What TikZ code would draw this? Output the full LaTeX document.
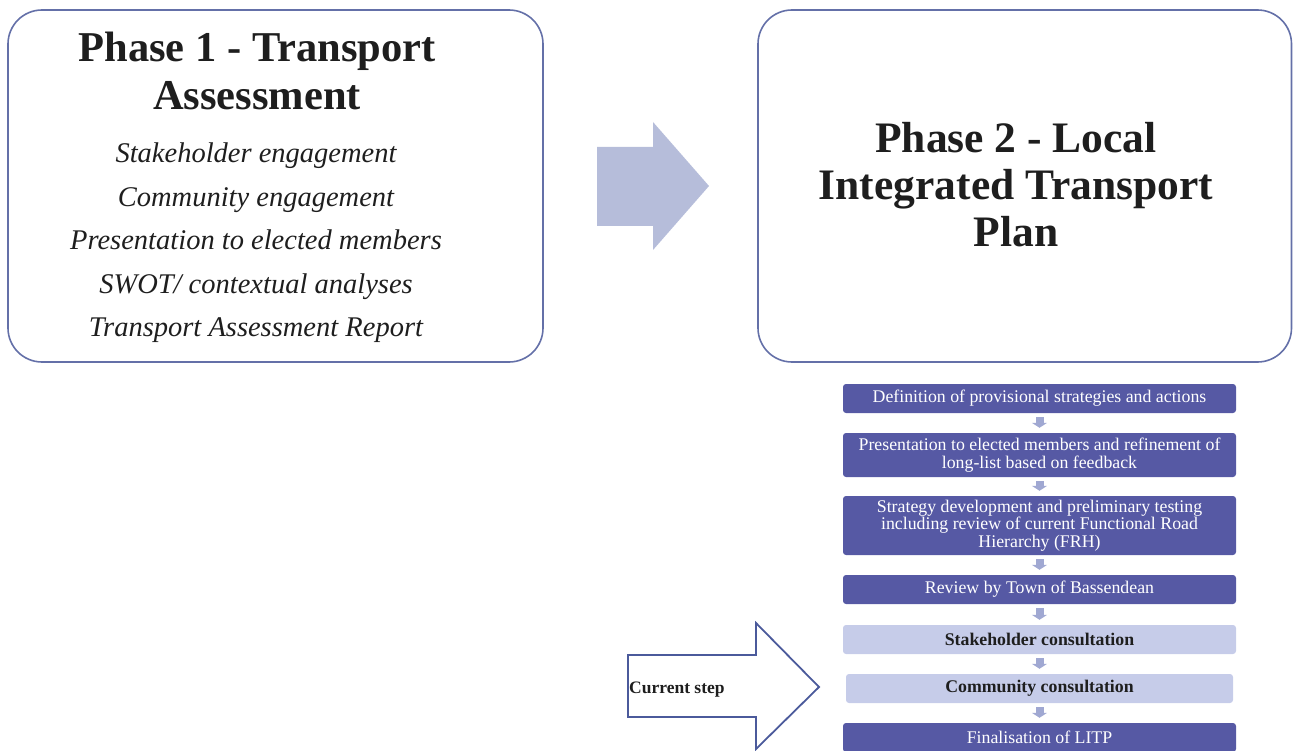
\documentclass[tikz,border=0pt]{standalone}
\usepackage{fontspec}
\setmainfont{Liberation Serif}
\usetikzlibrary{arrows.meta}
\definecolor{boxline}{HTML}{6470A8}
\definecolor{bigarrow}{HTML}{B6BDDA}
\definecolor{darkstep}{HTML}{5659A4}
\definecolor{lightstep}{HTML}{C6CCE9}
\definecolor{smallarrow}{HTML}{A0A8D2}
\definecolor{curline}{HTML}{4B5A9B}
\definecolor{ink}{HTML}{1E1E1E}
\tikzset{
  phasebox/.style={draw=boxline, line width=1.6pt, rounded corners=34pt},
  titleline/.style={anchor=base, inner sep=0pt, text=ink, font=\fontsize{42.5}{48}\selectfont\bfseries},
  titletwo/.style={anchor=base, inner sep=0pt, text=ink, font=\fontsize{43.5}{47}\selectfont\bfseries},
  itemline/.style={anchor=base, inner sep=0pt, text=ink, font=\fontsize{28.5}{34}\selectfont\itshape},
  darkbox/.style={fill=darkstep, rounded corners=3pt, text=white, minimum width=393pt, align=center, inner sep=0pt, font=\fontsize{17.8}{17.5}\selectfont},
  lightbox/.style={fill=lightstep, rounded corners=3pt, text=ink, minimum width=393pt, align=center, inner sep=0pt, font=\fontsize{17.8}{17.5}\selectfont\bfseries},
  flowarrow/.style={draw=smallarrow, line width=8pt, -{Triangle[width=15pt,length=5pt]}, shorten <=4pt, shorten >=5pt},
}
\begin{document}
\begin{tikzpicture}[x=1pt,y=-1pt]
\path[use as bounding box] (0,0) rectangle (1293,751);
\clip (0,0) rectangle (1293,751);
% Phase 1
\draw[phasebox] (8,10) rectangle (543,362);
\node[titleline] (p1a) at (257,62) {Phase 1 - Transport};
\node[titleline] (p1b) at (257,110) {Assessment};
\node[itemline] (i1) at (256,163) {Stakeholder engagement};
\node[itemline] (i2) at (256,207) {Community engagement};
\node[itemline] (i3) at (256,250) {Presentation to elected members};
\node[itemline] (i4) at (256,294) {SWOT/ contextual analyses};
\node[itemline] (i5) at (256,337) {Transport Assessment Report};
% big arrow
\fill[bigarrow] (597,147) -- (653,147) -- (653,122) -- (709,186) -- (653,250) -- (653,226) -- (597,226) -- cycle;
% Phase 2
\draw[phasebox] (758,10) rectangle (1291.5,362);
\node[titletwo] (p2a) at (1016,153) {Phase 2 - Local};
\node[titletwo] (p2b) at (1016,200) {Integrated Transport};
\node[titletwo] (p2c) at (1016,247) {Plan};
% flow chart
\node[darkbox, minimum height=29pt] (b1) at (1039.5,398.5) {Definition of provisional strategies and actions};
\node[darkbox, minimum height=44pt] (b2) at (1039.5,455) {Presentation to elected members and refinement of\\long-list based on feedback};
\node[darkbox, minimum height=59pt] (b3) at (1039.5,525.5) {Strategy development and preliminary testing\\including review of current Functional Road\\Hierarchy (FRH)};
\node[darkbox, minimum height=29pt] (b4) at (1039.5,589.5) {Review by Town of Bassendean};
\node[lightbox, minimum height=29pt] (b5) at (1039.5,639.5) {Stakeholder consultation};
\node[lightbox, minimum height=29pt, minimum width=387pt] (b6) at (1039.5,688.5) {Community consultation};
\node[darkbox, minimum height=29pt] (b7) at (1039.5,737.5) {Finalisation of LITP};
\draw[flowarrow] (b1) -- (b2);
\draw[flowarrow] (b2) -- (b3);
\draw[flowarrow] (b3) -- (b4);
\draw[flowarrow] (b4) -- (b5);
\draw[flowarrow] (b5) -- (b6);
\draw[flowarrow] (b6) -- (b7);
% current step arrow
\draw[curline, line width=1.8pt, line join=miter] (628,655) -- (756,655) -- (756,623) -- (819,687) -- (756,749) -- (756,717) -- (628,717) -- cycle;
\node[anchor=base west, inner sep=0pt, text=ink, font=\fontsize{17.5}{20}\selectfont\bfseries] (cur) at (629,693) {Current step};
\end{tikzpicture}
\end{document}
